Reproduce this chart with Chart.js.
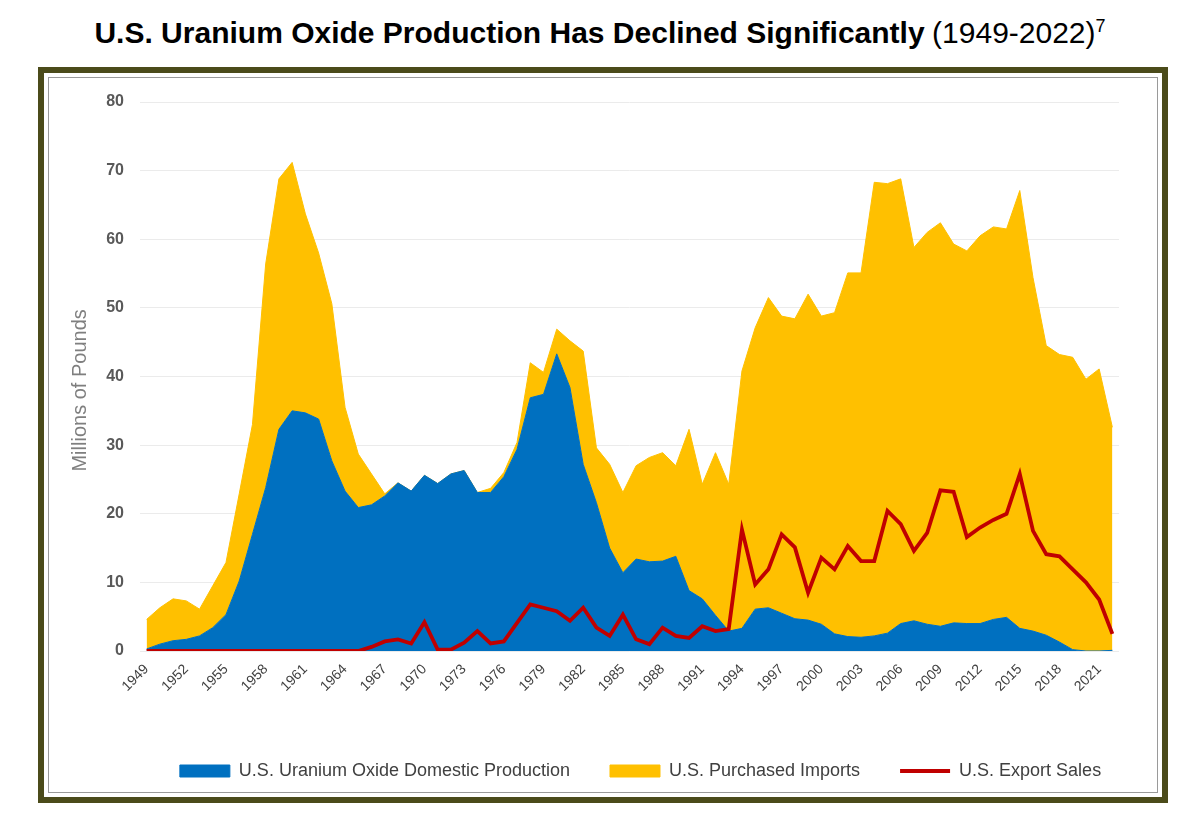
<!DOCTYPE html>
<html>
<head>
<meta charset="utf-8">
<title>U.S. Uranium Oxide Production</title>
<script src="https://cdn.jsdelivr.net/npm/chart.js@4.4.1/dist/chart.umd.min.js"></script>
<style>
    body { margin: 0; background: #fff; width: 1200px; height: 830px; overflow: hidden; position: relative; }
    #title {
        position: absolute; top: 16px; left: 0; width: 1200px; text-align: center;
        font-size: 30px; color: #000; white-space: nowrap;
    }
    #title b { font-family: "Liberation Sans Narrow", "Liberation Sans", sans-serif; font-weight: bold; }
    #title span { font-family: "Liberation Sans", sans-serif; font-weight: normal; }
    #title sup { font-family: "Liberation Sans", sans-serif; font-size: 18px; }
    #frame {
        position: absolute; left: 38px; top: 67px; width: 1130px; height: 736px;
        box-sizing: border-box; border: 6px solid #4b4b1a;
        box-shadow: inset 0 0 0 4px #fff, inset 0 0 0 5px #9a9a9a;
    }
    #chart { position: absolute; left: 0; top: 0; }
</style>
</head>
<body>
<div id="title"><b>U.S. Uranium Oxide Production Has Declined Significantly</b> <span>(1949-2022)<sup>7</sup></span></div>
<div id="frame"></div>
<canvas id="chart" width="1200" height="830"></canvas>

<script>
// Years 1949-2022
const years = [
    1949, 1950, 1951, 1952, 1953, 1954, 1955, 1956, 1957, 1958,
    1959, 1960, 1961, 1962, 1963, 1964, 1965, 1966, 1967, 1968,
    1969, 1970, 1971, 1972, 1973, 1974, 1975, 1976, 1977, 1978,
    1979, 1980, 1981, 1982, 1983, 1984, 1985, 1986, 1987, 1988,
    1989, 1990, 1991, 1992, 1993, 1994, 1995, 1996, 1997, 1998,
    1999, 2000, 2001, 2002, 2003, 2004, 2005, 2006, 2007, 2008,
    2009, 2010, 2011, 2012, 2013, 2014, 2015, 2016, 2017, 2018,
    2019, 2020, 2021, 2022
];

// Millions of pounds U3O8
const domesticProduction = [
    0.3, 1.0, 1.5, 1.7, 2.2, 3.4, 5.3, 10.2, 17.0, 23.8,
    32.3, 35.0, 34.7, 33.8, 27.7, 23.3, 20.9, 21.3, 22.6, 24.5,
    23.3, 25.6, 24.4, 25.8, 26.3, 23.1, 23.1, 25.4, 29.4, 36.9,
    37.4, 43.3, 38.4, 27.2, 21.6, 15.0, 11.4, 13.4, 13.0, 13.1,
    13.8, 8.8, 7.6, 5.2, 2.9, 3.3, 6.1, 6.3, 5.5, 4.7,
    4.5, 3.9, 2.5, 2.1, 2.0, 2.2, 2.6, 4.0, 4.4, 3.9,
    3.6, 4.1, 4.0, 4.0, 4.6, 4.9, 3.3, 2.9, 2.3, 1.3,
    0.2, 0.0, 0.0, 0.1
];

const purchasedImports = [
    4.3, 5.3, 6.1, 5.6, 3.9, 6.1, 7.6, 12.7, 16.0, 32.6,
    36.5, 36.2, 29.0, 24.2, 22.9, 12.2, 7.8, 4.5, 0.3, 0.0,
    0.0, 0.0, 0.0, 0.0, 0.0, 0.0, 0.6, 0.6, 1.0, 5.1,
    3.2, 3.6, 6.8, 16.5, 8.0, 12.2, 11.7, 13.6, 15.2, 15.8,
    13.2, 23.5, 16.7, 23.7, 21.4, 37.5, 41.0, 45.2, 43.3, 43.7,
    47.5, 44.9, 46.8, 53.0, 53.1, 66.1, 65.5, 64.8, 54.4, 57.1,
    58.8, 55.2, 54.3, 56.5, 57.2, 56.6, 63.8, 51.5, 42.2, 41.9,
    42.6, 39.6, 41.1, 32.5
];

const exportSales = [
    0, 0, 0, 0, 0, 0, 0, 0, 0, 0,
    0, 0, 0, 0, 0, 0, 0, 0.6, 1.4, 1.7,
    1.1, 4.2, 0.2, 0.2, 1.2, 2.9, 1.1, 1.4, 4.1, 6.8,
    6.3, 5.8, 4.4, 6.3, 3.4, 2.2, 5.3, 1.7, 1.0, 3.4,
    2.2, 1.9, 3.6, 2.9, 3.2, 17.7, 9.7, 11.9, 17.0, 15.1,
    8.5, 13.6, 11.9, 15.3, 13.1, 13.1, 20.4, 18.5, 14.6, 17.2,
    23.4, 23.2, 16.6, 18.0, 19.1, 20.0, 25.8, 17.5, 14.1, 13.8,
    11.9, 10.0, 7.5, 2.5
];

const yTicks = [0, 10, 20, 30, 40, 50, 60, 70, 80];

const blue = '#0070c0';
const yellow = '#ffc000';
const red = '#c00000';

// nudge the bottom legend so it sits centred like the original
const legendShift = {
    id: 'legendShift',
    afterLayout(chart) {
        const lg = chart.legend;
        if (!lg) return;
        lg.left += 47;
        lg.right += 47;
    }
};

const ctx = document.getElementById('chart').getContext('2d');
new Chart(ctx, {
    type: 'line',
    data: {
        labels: years,
        datasets: [
            {
                label: 'U.S. Uranium Oxide Domestic Production',
                data: domesticProduction,
                stack: 'supply',
                order: 1,
                fill: 'origin',
                backgroundColor: blue,
                borderColor: blue,
                borderWidth: 1,
                pointRadius: 0,
                pointStyle: 'rect'
            },
            {
                label: 'U.S. Purchased Imports',
                data: purchasedImports,
                stack: 'supply',
                order: 2,
                fill: '-1',
                backgroundColor: yellow,
                borderColor: yellow,
                borderWidth: 1,
                pointRadius: 0,
                pointStyle: 'rect'
            },
            {
                label: 'U.S. Export Sales',
                data: exportSales,
                stack: 'exports',
                order: 0,
                fill: false,
                backgroundColor: red,
                borderColor: red,
                borderWidth: 3.8,
                pointRadius: 0,
                pointStyle: 'line'
            }
        ]
    },
    options: {
        responsive: false,
        animation: false,
        devicePixelRatio: 1,
        layout: {
            padding: { left: 68, top: 102, right: 81, bottom: 40 }
        },
        plugins: {
            legend: {
                position: 'bottom',
                labels: {
                    usePointStyle: true,
                    pointStyleWidth: 50,
                    boxHeight: 12,
                    padding: 40,
                    color: '#404040',
                    font: { family: '"Liberation Sans", Arial, sans-serif', size: 18 },
                    sort: (a, b) => a.datasetIndex - b.datasetIndex
                }
            },
            tooltip: { enabled: false }
        },
        scales: {
            x: {
                offset: true,
                grid: { display: false },
                border: { display: false },
                ticks: {
                    autoSkip: false,
                    minRotation: 45,
                    maxRotation: 45,
                    padding: 2,
                    color: '#404040',
                    font: { family: '"Liberation Sans", Arial, sans-serif', size: 14 },
                    callback: function(value, index) {
                        const yr = years[index];
                        return (yr - 1949) % 3 === 0 ? String(yr) : '';
                    }
                },
                afterFit: function(scale) { scale.height = 71; }
            },
            y: {
                stacked: true,
                min: yTicks[0],
                max: yTicks[yTicks.length - 1],
                afterBuildTicks: function(scale) {
                    scale.ticks = yTicks.map(v => ({ value: v }));
                },
                grid: { color: '#ebebeb', drawTicks: false },
                border: { display: false },
                ticks: {
                    padding: 16,
                    color: '#595959',
                    font: { family: '"Liberation Sans", Arial, sans-serif', size: 16, weight: 'bold' }
                },
                title: {
                    display: true,
                    text: 'Millions of Pounds\u00a0\u00a0\u00a0\u00a0\u00a0',
                    color: '#7f7f7f',
                    padding: 0,
                    font: { family: '"Liberation Sans", Arial, sans-serif', size: 20 }
                },
                afterFit: function(scale) { scale.width = 72; }
            }
        }
    },
    plugins: [legendShift]
});
</script>
</body>
</html>
